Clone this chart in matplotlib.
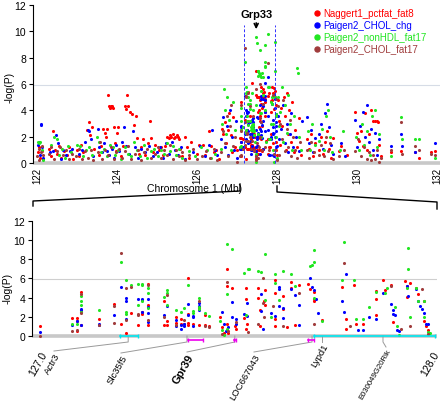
import matplotlib
matplotlib.use('Agg')
import matplotlib.pyplot as plt
from matplotlib.lines import Line2D

plt.rcParams['font.family'] = ['Liberation Sans', 'DejaVu Sans']

# ---------------- data ----------------
series_names = ['Naggert1_pctfat_fat8', 'Paigen2_CHOL_chg', 'Paigen2_nonHDL_fat17', 'Paigen2_CHOL_fat17']

# top panel, outside the 127-128 Mb zoom region: (Mb, -log P)
red_top = [
    (122.02, 0.8), (122.05, 1.2), (122.08, 0.4), (122.12, 0.9), (122.15, 0.3),
    (122.30, 1.1), (122.35, 0.5), (122.40, 2.4), (122.45, 1.0), (122.50, 0.7), (122.55, 1.3), (122.60, 0.4),
    (122.68, 0.9), (122.75, 0.6), (122.80, 1.2), (122.90, 0.3),
    (123.00, 1.0), (123.05, 0.5), (123.10, 1.4), (123.15, 0.8), (123.25, 2.5), (123.30, 3.1), (123.32, 2.1),
    (123.38, 2.7), (123.42, 1.1),
    (123.55, 0.6), (123.60, 1.3), (123.65, 2.6), (123.70, 2.3), (123.72, 2.0), (123.75, 2.6), (123.78, 5.2),
    (123.80, 4.3), (123.82, 4.2), (123.85, 4.3), (123.88, 4.3), (123.90, 4.2), (123.93, 2.7), (123.95, 1.5),
    (123.98, 0.9), (124.00, 2.3), (124.02, 2.7),
    (124.10, 0.5), (124.15, 1.3), (124.20, 4.3), (124.22, 4.1), (124.25, 5.2), (124.27, 4.3), (124.32, 3.9),
    (124.38, 3.7), (124.43, 2.9), (124.48, 3.6), (124.50, 1.9), (124.55, 0.7), (124.60, 1.2), (124.65, 1.8),
    (124.70, 0.6), (124.78, 1.5), (124.82, 3.2), (124.85, 1.9), (124.90, 0.8), (124.95, 1.4),
    (125.05, 1.0), (125.10, 1.2), (125.15, 0.6), (125.20, 1.3), (125.25, 2.0), (125.30, 1.9), (125.33, 2.1),
    (125.36, 2.0), (125.40, 2.2), (125.43, 1.9), (125.46, 2.0), (125.50, 2.1), (125.52, 2.0), (125.55, 1.8),
    (125.58, 1.1), (125.62, 0.5), (125.70, 2.0), (125.75, 1.2), (125.80, 0.4), (125.85, 1.6),
    (126.00, 0.7), (126.05, 1.4), (126.15, 1.4), (126.20, 0.6), (126.30, 2.4), (126.35, 1.3), (126.42, 0.8),
    (126.48, 1.0), (126.55, 0.3),
    (126.62, 2.6), (126.65, 2.2), (126.70, 3.1), (126.72, 1.5), (126.78, 2.5), (126.80, 3.8), (126.85, 2.1),
    (126.88, 0.8), (126.90, 3.5), (126.95, 1.2),
    (128.02, 4.8), (128.05, 3.2), (128.08, 1.4), (128.10, 4.2), (128.12, 2.8), (128.18, 5.0), (128.20, 3.6),
    (128.22, 1.0), (128.25, 5.3), (128.28, 2.2), (128.30, 4.0), (128.35, 1.6), (128.38, 4.6), (128.42, 0.8),
    (128.45, 2.5), (128.50, 1.2), (128.55, 3.4), (128.60, 0.6),
    (128.75, 1.8), (128.80, 1.1), (128.85, 2.2), (128.90, 0.5), (128.95, 1.5),
    (129.05, 1.0), (129.10, 2.0), (129.15, 0.7), (129.20, 1.6), (129.25, 2.4), (129.30, 1.1), (129.35, 0.4),
    (129.40, 1.9), (129.55, 0.9), (129.60, 1.3), (129.75, 0.6),
    (129.95, 3.9), (130.00, 2.3), (130.05, 1.7), (130.10, 2.4), (130.15, 1.3), (130.20, 3.8), (130.25, 1.0),
    (130.30, 2.2), (130.35, 4.0), (130.40, 3.2), (130.45, 3.2), (130.50, 3.2), (130.52, 3.1), (130.55, 1.4),
    (130.60, 0.5), (130.85, 0.8), (131.10, 0.9), (131.45, 0.8), (131.55, 0.4), (131.85, 0.8), (131.95, 0.9),
]
blue_top = [
    (122.03, 1.4), (122.06, 1.6), (122.10, 3.0), (122.11, 2.9), (122.13, 1.2), (122.08, 0.6), (122.15, 0.4),
    (122.32, 0.8), (122.40, 0.9), (122.48, 2.1), (122.52, 1.5), (122.60, 0.3), (122.65, 1.0), (122.72, 0.6),
    (122.82, 0.9), (122.88, 1.1),
    (123.05, 0.7), (123.12, 1.0), (123.20, 1.6), (123.28, 2.5), (123.30, 2.4), (123.35, 1.8), (123.40, 0.5),
    (123.52, 2.6), (123.55, 1.2), (123.62, 0.8), (123.68, 1.5), (123.75, 0.9), (123.80, 0.6), (123.88, 1.1),
    (123.92, 0.4), (123.98, 1.4),
    (124.05, 0.9), (124.12, 1.6), (124.18, 2.7), (124.22, 1.3), (124.30, 0.7), (124.40, 2.4), (124.45, 1.2),
    (124.52, 0.4), (124.60, 1.1), (124.70, 0.8), (124.80, 1.3), (124.90, 0.5),
    (125.00, 0.8), (125.08, 1.2), (125.15, 0.4), (125.22, 1.5), (125.30, 0.7), (125.38, 1.6), (125.45, 1.0),
    (125.52, 0.6), (125.60, 1.2), (125.70, 0.3),
    (125.90, 0.8), (126.08, 1.3), (126.20, 0.5), (126.30, 1.4), (126.38, 2.5), (126.45, 1.0), (126.50, 0.6),
    (126.60, 1.8), (126.65, 3.5), (126.70, 1.2), (126.75, 2.8), (126.78, 0.6), (126.82, 4.0), (126.88, 2.0),
    (126.92, 1.0), (126.97, 3.2),
    (128.02, 3.6), (128.06, 1.8), (128.10, 2.6), (128.15, 4.4), (128.20, 1.5), (128.24, 3.0), (128.28, 0.8),
    (128.32, 2.2), (128.36, 3.8), (128.40, 1.2), (128.48, 2.0), (128.55, 0.9), (128.62, 3.2),
    (128.75, 3.5), (128.80, 1.5), (128.85, 2.5), (128.90, 0.8), (128.95, 1.9),
    (129.05, 2.2), (129.10, 3.0), (129.15, 1.1), (129.20, 3.8), (129.25, 4.5), (129.30, 2.7), (129.35, 1.4),
    (129.40, 0.7), (129.60, 1.5), (129.70, 0.5),
    (129.95, 3.3), (130.00, 1.2), (130.08, 2.8), (130.15, 3.9), (130.20, 2.0), (130.25, 4.4), (130.30, 1.6),
    (130.35, 2.6), (130.40, 1.0), (130.45, 2.3), (130.50, 0.6), (130.55, 1.8),
    (130.85, 1.3), (131.10, 2.2), (131.12, 1.3), (131.45, 0.8), (131.95, 1.5),
]
green_top = [
    (122.02, 1.6), (122.05, 1.5), (122.08, 1.6), (122.12, 1.0), (122.14, 0.2),
    (122.35, 1.4), (122.42, 2.0), (122.50, 1.8), (122.55, 0.6), (122.62, 1.1), (122.70, 0.4), (122.78, 1.3),
    (122.85, 0.8),
    (123.00, 1.4), (123.08, 1.3), (123.15, 0.5), (123.22, 1.0), (123.30, 1.2), (123.38, 0.6),
    (123.50, 2.0), (123.55, 1.6), (123.60, 0.8), (123.68, 1.1), (123.75, 0.5), (123.82, 1.4), (123.90, 1.2),
    (123.95, 0.6),
    (124.02, 1.0), (124.10, 0.3), (124.20, 1.2), (124.28, 0.7), (124.35, 0.5), (124.42, 1.6), (124.50, 1.0),
    (124.58, 0.5), (124.68, 1.4), (124.75, 0.4), (124.85, 0.9), (124.92, 1.1),
    (125.02, 0.5), (125.10, 1.0), (125.18, 0.7), (125.25, 1.5), (125.32, 0.9), (125.40, 1.3), (125.48, 0.6),
    (125.55, 1.1), (125.62, 0.4),
    (125.80, 0.9), (125.95, 0.5), (126.10, 1.2), (126.25, 1.0), (126.35, 0.4), (126.45, 0.7),
    (126.60, 1.1), (126.62, 3.0), (126.68, 5.6), (126.70, 4.0), (126.72, 2.2), (126.76, 5.0), (126.80, 3.3),
    (126.85, 1.0), (126.90, 4.6), (126.95, 2.5),
    (128.02, 5.0), (128.05, 2.8), (128.08, 3.9), (128.12, 5.8), (128.15, 1.6), (128.20, 4.4), (128.25, 2.3),
    (128.28, 5.2), (128.32, 3.0), (128.38, 1.0), (128.42, 3.6), (128.50, 7.2), (128.52, 6.8), (128.55, 2.0),
    (128.60, 1.0),
    (128.78, 2.4), (128.82, 1.0), (128.88, 3.0), (128.95, 1.4),
    (129.05, 1.7), (129.12, 2.6), (129.18, 1.0), (129.22, 3.6), (129.28, 4.0), (129.32, 2.0), (129.38, 0.8),
    (129.58, 1.0), (129.65, 2.4),
    (129.98, 2.0), (130.05, 1.0), (130.12, 3.0), (130.18, 1.4), (130.25, 2.4), (130.32, 0.6), (130.38, 3.6),
    (130.45, 4.0), (130.50, 1.2), (130.55, 2.2),
    (130.85, 0.5), (131.10, 3.5), (131.12, 1.8), (131.45, 1.8), (131.55, 1.8), (131.95, 0.4),
]
brown_top = [
    (122.01, 0.5), (122.04, 1.1), (122.06, 0.2), (122.09, 0.8), (122.12, 1.3), (122.15, 0.6),
    (122.30, 0.7), (122.36, 1.2), (122.42, 0.3), (122.50, 0.9), (122.58, 1.2), (122.65, 0.6), (122.72, 1.0),
    (122.80, 0.3), (122.88, 0.7),
    (122.98, 0.5), (123.05, 1.1), (123.12, 0.3), (123.20, 0.9), (123.28, 0.4), (123.35, 1.0), (123.40, 0.2),
    (123.52, 0.8), (123.58, 1.6), (123.62, 0.3), (123.70, 1.0), (123.78, 0.6), (123.85, 1.2), (123.92, 0.3),
    (123.98, 0.8),
    (124.05, 1.1), (124.12, 0.4), (124.20, 0.9), (124.28, 1.3), (124.35, 0.3), (124.45, 0.7), (124.52, 1.0),
    (124.60, 0.2), (124.68, 0.8), (124.75, 1.1), (124.85, 0.4), (124.95, 0.7),
    (125.02, 1.2), (125.10, 0.4), (125.18, 1.0), (125.25, 0.6), (125.32, 1.4), (125.40, 0.3), (125.48, 1.0),
    (125.55, 0.5), (125.62, 0.8), (125.70, 0.2),
    (125.80, 0.6), (125.90, 1.1), (126.00, 0.3), (126.12, 0.5), (126.22, 0.9), (126.32, 0.4), (126.42, 1.1),
    (126.50, 0.2),
    (126.60, 0.8), (126.64, 2.4), (126.70, 1.5), (126.74, 3.6), (126.78, 0.5), (126.82, 2.8), (126.86, 4.4),
    (126.90, 1.3), (126.94, 2.0),
    (128.02, 4.3), (128.05, 0.6), (128.08, 3.0), (128.12, 1.8), (128.15, 4.8), (128.20, 0.9), (128.24, 2.6),
    (128.28, 1.2), (128.32, 3.3), (128.36, 0.5), (128.40, 2.0), (128.45, 1.0), (128.50, 0.4), (128.58, 1.6),
    (128.75, 1.0), (128.80, 0.4), (128.85, 1.6), (128.92, 0.8),
    (129.05, 0.6), (129.10, 1.4), (129.18, 0.5), (129.22, 2.0), (129.28, 0.9), (129.32, 1.5), (129.40, 0.3),
    (129.55, 0.5), (129.68, 1.0),
    (129.95, 0.9), (130.02, 1.8), (130.10, 0.5), (130.18, 1.2), (130.25, 0.3), (130.30, 0.8), (130.35, 0.2),
    (130.40, 0.6), (130.45, 0.3), (130.50, 1.0), (130.55, 0.1), (130.60, 0.4),
    (130.85, 1.0), (131.10, 3.1), (131.12, 0.7), (131.45, 1.3), (131.55, 1.0), (131.85, 0.7), (131.95, 0.6),
]

# zoomed region 127-128 Mb (shown in the bottom panel and inside the top panel)
red_zoom = [
    (127.000, 1.0), (127.082, 1.9), (127.094, 1.9), (127.094, 1.6), (127.094, 0.5), (127.105, 4.6),
    (127.105, 2.5), (127.105, 1.1), (127.150, 1.8), (127.189, 3.3), (127.207, 1.2), (127.219, 0.3),
    (127.232, 2.4), (127.250, 1.1), (127.260, 2.5), (127.260, 2.3), (127.276, 5.4), (127.276, 3.2),
    (127.276, 1.1), (127.316, 3.6), (127.316, 1.1), (127.324, 1.6), (127.324, 1.1), (127.347, 2.0),
    (127.347, 1.4), (127.360, 1.8), (127.360, 1.2), (127.367, 1.3), (127.378, 6.1), (127.378, 2.3),
    (127.378, 1.4), (127.378, 1.1), (127.390, 1.2), (127.406, 2.9), (127.406, 1.1), (127.420, 2.2),
    (127.420, 1.1), (127.430, 1.0),
    (127.460, 2.0), (127.465, 0.9), (127.470, 0.3), (127.477, 7.0), (127.477, 5.2), (127.477, 1.2),
    (127.480, 0.3), (127.490, 5.0), (127.497, 1.0), (127.500, 0.7), (127.520, 1.9), (127.525, 5.0),
    (127.525, 3.9), (127.525, 0.7), (127.528, 1.3), (127.560, 2.7), (127.560, 1.0), (127.556, 5.0),
    (127.556, 4.0), (127.574, 4.8), (127.574, 3.2), (127.572, 3.6), (127.600, 5.8), (127.600, 4.5),
    (127.600, 1.8), (127.600, 1.0), (127.620, 4.2), (127.620, 2.8), (127.630, 0.9), (127.640, 5.6),
    (127.640, 5.0), (127.650, 1.1), (127.660, 5.3), (127.684, 5.4), (127.690, 4.9), (127.700, 4.6),
    (127.700, 3.9), (127.700, 3.6), (127.720, 1.7), (127.770, 5.1), (127.780, 1.8), (127.780, 0.7),
    (127.800, 5.3), (127.806, 1.2), (127.824, 1.2), (127.857, 2.2), (127.857, 4.7), (127.857, 3.9),
    (127.875, 5.8), (127.880, 4.8), (127.895, 5.3), (127.900, 1.5), (127.930, 5.7), (127.935, 5.2),
    (127.935, 4.1), (127.945, 5.5), (127.960, 5.0), (127.965, 4.4), (127.980, 3.6), (127.980, 1.6),
    (127.985, 1.0), (127.990, 0.6),
]
blue_zoom = [
    (127.000, 0.4), (127.082, 1.1), (127.094, 1.6), (127.105, 2.8), (127.105, 2.7), (127.105, 1.1),
    (127.150, 1.2), (127.150, 1.1), (127.189, 2.2), (127.207, 5.1), (127.219, 4.0), (127.219, 3.6),
    (127.219, 1.8), (127.250, 3.9), (127.260, 3.9), (127.260, 3.8), (127.260, 2.5), (127.276, 3.9),
    (127.276, 3.0), (127.276, 2.4), (127.276, 1.5), (127.316, 2.2), (127.324, 3.1), (127.347, 1.7),
    (127.347, 1.0), (127.360, 1.1), (127.360, 0.7), (127.367, 1.3), (127.367, 1.0), (127.378, 3.3),
    (127.378, 2.2), (127.390, 2.1), (127.390, 2.0), (127.390, 1.0), (127.406, 3.4), (127.406, 3.1),
    (127.406, 2.7),
    (127.465, 2.5), (127.470, 1.2), (127.475, 0.5), (127.480, 0.9), (127.490, 3.5), (127.490, 2.0),
    (127.500, 1.3), (127.500, 1.8), (127.520, 2.3), (127.528, 3.4), (127.528, 2.1), (127.565, 4.4),
    (127.565, 2.6), (127.570, 0.7), (127.590, 2.4), (127.600, 2.1), (127.610, 5.1), (127.610, 4.9),
    (127.610, 3.1), (127.620, 2.9), (127.620, 1.9), (127.640, 4.9), (127.650, 4.3), (127.660, 3.2),
    (127.660, 1.1), (127.690, 6.1), (127.695, 5.1), (127.700, 4.8), (127.705, 3.9), (127.710, 2.4),
    (127.780, 6.5), (127.770, 3.6), (127.775, 2.5), (127.810, 0.6), (127.824, 0.6), (127.840, 2.0),
    (127.857, 1.8), (127.875, 4.5), (127.895, 3.3), (127.900, 2.7), (127.900, 2.3), (127.905, 2.2),
    (127.910, 0.6), (127.915, 0.5), (127.935, 5.2), (127.940, 4.2), (127.960, 4.9), (127.965, 3.7),
    (127.970, 3.1), (127.975, 2.8), (127.980, 2.4), (127.985, 1.2), (127.990, 1.3),
]
green_zoom = [
    (127.082, 1.2), (127.094, 1.3), (127.105, 4.2), (127.105, 3.6), (127.105, 3.2), (127.105, 2.5),
    (127.150, 2.7), (127.207, 7.7), (127.219, 5.8), (127.219, 2.5), (127.219, 2.3), (127.232, 5.3),
    (127.250, 5.4), (127.250, 3.2), (127.260, 5.4), (127.260, 5.3), (127.260, 3.6), (127.276, 5.0),
    (127.276, 4.5), (127.276, 2.9), (127.316, 4.1), (127.324, 4.8), (127.324, 4.5), (127.324, 3.2),
    (127.347, 2.7), (127.360, 2.5), (127.367, 2.9), (127.378, 5.3), (127.390, 2.6), (127.390, 2.4),
    (127.406, 4.0), (127.406, 3.0), (127.406, 2.8), (127.420, 2.4), (127.430, 2.1),
    (127.460, 1.6), (127.465, 0.6), (127.470, 0.1), (127.477, 9.6), (127.477, 4.4), (127.477, 0.7),
    (127.490, 9.1), (127.520, 6.6), (127.525, 2.2), (127.530, 7.0), (127.533, 7.0), (127.556, 6.8),
    (127.565, 6.7), (127.574, 8.6), (127.574, 3.8), (127.590, 2.0), (127.600, 6.5), (127.600, 5.5),
    (127.610, 3.8), (127.620, 6.8), (127.640, 6.5), (127.650, 5.2), (127.690, 7.3), (127.700, 9.0),
    (127.700, 7.7), (127.695, 7.4), (127.700, 4.0), (127.720, 1.6), (127.775, 9.8), (127.770, 5.8),
    (127.800, 5.8), (127.806, 1.8), (127.824, 1.8), (127.840, 3.0), (127.857, 4.6), (127.880, 4.5),
    (127.885, 5.0), (127.905, 3.0), (127.910, 1.0), (127.915, 0.1), (127.940, 9.2), (127.940, 7.0),
    (127.937, 5.0), (127.945, 2.0), (127.960, 5.0), (127.965, 3.7), (127.980, 3.6), (127.980, 2.0),
    (127.990, 0.4), (127.995, 0.3),
]
brown_zoom = [
    (127.000, 0.05), (127.082, 0.5), (127.094, 0.6), (127.105, 4.4), (127.105, 2.4), (127.150, 1.1),
    (127.189, 3.1), (127.189, 1.4), (127.207, 8.7), (127.219, 5.0), (127.219, 1.7), (127.232, 5.1),
    (127.250, 2.3), (127.250, 2.2), (127.276, 5.3), (127.276, 1.7), (127.316, 2.0), (127.324, 4.3),
    (127.347, 1.1), (127.367, 1.7), (127.406, 3.6), (127.420, 1.0), (127.430, 0.9),
    (127.465, 0.2), (127.477, 5.6), (127.480, 0.5), (127.500, 1.5), (127.530, 0.4), (127.556, 1.2),
    (127.570, 6.0), (127.570, 3.4), (127.572, 2.0), (127.595, 3.1), (127.620, 1.0), (127.660, 4.5),
    (127.700, 1.2), (127.775, 7.6), (127.790, 1.0), (127.895, 5.2), (127.920, 0.7), (127.945, 1.0),
    (127.975, 4.9), (127.990, 0.2),
]

threshold = 5.9
top_yticks = [0, 2, 4, 6, 8, 10, 12]
top_xticks = [122, 124, 126, 128, 130, 132]
bottom_xticks = [127.0, 128.0]
bottom_xticklabels = ['127.0', '128.0']
highlight_bounds = [127.18, 127.95]
highlight_gene = 'Grp33'
highlight_pos = 127.48

# gene bodies in the zoom region
seg_start = [127.204, 127.378, 127.495, 127.684, 127.699]
seg_end = [127.250, 127.416, 127.500, 127.699, 128.008]
seg_strand = ['+', '-', '-', '-', '+']
# gene labels
gene_names = ['Actr3', 'Slc35f5', 'Gpr39', 'LOC667043', 'Lypd1', 'E030049G20Rik']
gene_pos = [127.225, 127.375, 127.497, 127.694, 127.719, 127.875]

# ---------------- styling ----------------
colors = ['#ff0000', '#0000ff', '#22e622', '#a03c3c']
W, H = 446, 410


def fx(p):
    return p / W


def fy(p):
    return 1 - p / H


fig = plt.figure(figsize=(W / 100, H / 100), dpi=100)

# ---------- top panel ----------
ax1 = fig.add_axes([fx(33), fy(166), 407 / W, 163 / H])
ax1.set_xlim(121.9, 132.075)
ax1.set_ylim(-0.15, 12.23)
for s in ['top', 'right', 'bottom']:
    ax1.spines[s].set_visible(False)
ax1.spines['left'].set_bounds(0, 12)
ax1.spines['left'].set_linewidth(0.8)
ax1.set_yticks(top_yticks)
ax1.set_xticks(top_xticks)
ax1.set_xticklabels([str(t) for t in top_xticks], rotation=90)
ax1.tick_params(axis='x', length=0, pad=1.5, labelsize=7)
ax1.tick_params(axis='y', length=3, width=0.8, pad=2, labelsize=7.5)
ax1.axhline(0, color='#c8c8c8', lw=2.6, zorder=1)
ax1.axhline(threshold, color='#d6dce6', lw=0.8, zorder=1)

top_sets = [red_top + red_zoom, blue_top + blue_zoom, green_top + green_zoom, brown_top + brown_zoom]
for pts, c in zip(top_sets, colors):
    xs, ys = zip(*pts)
    ax1.scatter(xs, ys, s=5, color=c, linewidths=0, zorder=3)

ax1.vlines(highlight_bounds, 0, 10.5, colors='#3030ff', linestyles=(0, (3, 2)), lw=0.7, zorder=4)
ax1.text(highlight_pos, 11.35, highlight_gene, fontsize=8, fontweight='bold', ha='center', va='center')
ax1.annotate('', xy=(highlight_pos, 9.95), xytext=(highlight_pos, 10.85),
             arrowprops=dict(arrowstyle='->', color='black', lw=1.2, mutation_scale=7))

fig.text(fx(195), fy(189), 'Chromosome 1 (Mb)', ha='center', va='center', fontsize=7.5)
fig.text(fx(10), fy(87), '-log(P)', rotation=90, ha='center', va='center', fontsize=7.5)

# legend
for i, (name, c) in enumerate(zip(series_names, colors)):
    yy = 14 + 12 * i
    fig.add_artist(Line2D([fx(317)], [fy(yy)], marker='o', ms=3.6, color=c, linestyle='none',
                          transform=fig.transFigure))
    fig.text(fx(323), fy(yy), name, color=c, fontsize=7, va='center', ha='left')

# ---------- bottom panel ----------
ax2 = fig.add_axes([fx(32), fy(345), 405 / W, 130 / H])
ax2.set_xlim(126.9796, 128.0128)
ax2.set_ylim(-0.835, 12.73)
for s in ['top', 'right', 'bottom']:
    ax2.spines[s].set_visible(False)
ax2.spines['left'].set_bounds(0, 12)
ax2.spines['left'].set_linewidth(0.8)
ax2.set_yticks(top_yticks)
ax2.set_xticks(bottom_xticks)
ax2.set_xticklabels(bottom_xticklabels, rotation=60, ha='right', va='top', rotation_mode='anchor')
ax2.tick_params(axis='x', length=0, pad=4, labelsize=7.5)
ax2.tick_params(axis='y', length=3, width=0.8, pad=2, labelsize=7.5)
ax2.axhline(0, color='#c8c8c8', lw=2.6, zorder=1)
ax2.axhline(threshold, color='#cfcfcf', lw=0.8, zorder=1)

for pts, c in zip([red_zoom, blue_zoom, green_zoom, brown_zoom], colors):
    xs, ys = zip(*pts)
    ax2.scatter(xs, ys, s=5, color=c, linewidths=0, zorder=3)

fig.text(fx(8), fy(288), '-log(P)', rotation=90, ha='center', va='center', fontsize=7.5)


def bx(p):
    return 127 + (p - 40) / 392


def by(p):
    return (337 - p) / 9.583


# gene bodies
for s0, s1, st in zip(seg_start, seg_end, seg_strand):
    col = '#00e5ee' if st == '+' else '#ee00ee'
    lev = 0.05 if st == '+' else -0.42
    ax2.plot([s0, s1], [lev, lev], color=col, lw=1.2, clip_on=False, zorder=4,
             marker='|', ms=3, markevery=[0, 1])

# gene labels with leader lines
label_anchor_px = [(54, 352), (121, 354), (187, 353), (254, 353), (322, 343), (386, 348)]
label_size = [6.8, 6.8, 8, 6.8, 6.8, 5.6]
for name, gp, (apx, apy), fs in zip(gene_names, gene_pos, label_anchor_px, label_size):
    ax2.plot([gp, gp, bx(apx)], [0, by(343), by(apy)], color='#9a9a9a', lw=0.7,
             clip_on=False, zorder=2)
    bold = name == 'Gpr39'
    ax2.text(bx(apx), by(apy), name, rotation=60, rotation_mode='anchor', ha='right', va='top',
             fontsize=fs, fontweight='bold' if bold else 'normal', clip_on=False)

# bracket connecting the panels
for pts in [[(33, 207), (33, 202), (240, 192), (240, 185)],
            [(277, 187), (277, 193), (437, 203), (437, 210)]]:
    fig.add_artist(Line2D([fx(p[0]) for p in pts], [fy(p[1]) for p in pts], color='black', lw=1.0,
                          transform=fig.transFigure))

fig.savefig('out.png', dpi=100)
